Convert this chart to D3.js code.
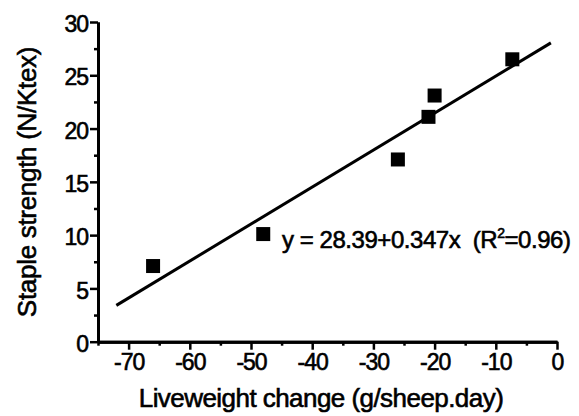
<!DOCTYPE html>
<html><head><meta charset="utf-8">
<script src="https://cdn.jsdelivr.net/npm/d3@7"></script>
<style>
body{margin:0;background:#fff;}
svg{display:block;font-family:"Liberation Sans",Arial,sans-serif;}
text{stroke:#000;stroke-width:0.6px;}
</style></head><body>
<svg id="c" width="579" height="416"></svg>
<script>
const xVals = [-66, -48, -26, -21, -20, -7.3];
const yVals = [7.1, 10.1, 17.1, 21.1, 23.1, 26.5];
const xTicks = [-70, -60, -50, -40, -30, -20, -10, 0];
const xMinor = [-75, -65, -55, -45, -35, -25, -15, -5];
const yTicks = [0, 5, 10, 15, 20, 25, 30];
const yMinor = [2.5, 7.5, 12.5, 17.5, 22.5, 27.5];
const fitIntercept = 28.39, fitSlope = 0.347;
const fitRange = [-72, -1];

const svg = d3.select("#c");
const x = d3.scaleLinear().domain([-75, 0]).range([98, 557]);
const y = d3.scaleLinear().domain([0, 30]).range([341.7, 22]);
const fmt = d => String(d);

const gx = svg.append("g").attr("transform", `translate(0,${y(0)})`)
  .call(d3.axisBottom(x).tickValues(xTicks).tickSize(8).tickSizeOuter(0).tickPadding(4).tickFormat(fmt));
const gxm = svg.append("g").attr("transform", `translate(0,${y(0)})`)
  .call(d3.axisBottom(x).tickValues(xMinor).tickSize(4).tickSizeOuter(0).tickFormat(""));
const gy = svg.append("g").attr("transform", `translate(${x(-75)},0)`)
  .call(d3.axisLeft(y).tickValues(yTicks).tickSize(8).tickSizeOuter(0).tickPadding(2).tickFormat(fmt));
const gym = svg.append("g").attr("transform", `translate(${x(-75)},0)`)
  .call(d3.axisLeft(y).tickValues(yMinor).tickSize(4).tickSizeOuter(0).tickFormat(""));

[gx, gxm, gy, gym].forEach(g => {
  g.select(".domain").attr("stroke", "#000").attr("stroke-width", 3);
  g.selectAll(".tick line").attr("stroke", "#000").attr("stroke-width", 2.5);
  g.selectAll(".tick text").attr("fill", "#000").style("font-size", "23px").style("font-family", '"Liberation Sans",Arial,sans-serif');
});
gy.selectAll(".tick text").attr("dy", "0.42em").style("letter-spacing", "-1px");
gx.selectAll(".tick text").style("letter-spacing", "-1px");

svg.append("line")
  .attr("x1", x(fitRange[0])).attr("y1", y(fitIntercept + fitSlope * fitRange[0]))
  .attr("x2", x(fitRange[1])).attr("y2", y(fitIntercept + fitSlope * fitRange[1]))
  .attr("stroke", "#000").attr("stroke-width", 3);

const s = 14;
svg.selectAll("rect.pt").data(xVals.map((d, i) => [d, yVals[i]])).enter()
  .append("rect").attr("class", "pt")
  .attr("x", d => x(d[0]) - s / 2).attr("y", d => y(d[1]) - s / 2)
  .attr("width", s).attr("height", s).attr("fill", "#000");

const eq = svg.append("text").attr("x", 282).attr("y", 248)
  .style("font-size", "24px").attr("fill", "#000").style("letter-spacing", "-0.45px").style("white-space", "pre");
eq.append("tspan").text("y = 28.39+0.347x  (R");
eq.append("tspan").attr("dy", -10).style("font-size", "14px").text("2");
eq.append("tspan").attr("dy", 10).text("=0.96)");

svg.append("text").attr("x", 321).attr("y", 407).attr("text-anchor", "middle")
  .style("font-size", "26px").style("letter-spacing", "-0.55px").attr("fill", "#000")
  .text("Liveweight change (g/sheep.day)");
svg.append("text").attr("transform", "translate(36,182) rotate(-90)").attr("text-anchor", "middle")
  .style("font-size", "26px").style("letter-spacing", "-0.3px").attr("fill", "#000")
  .text("Staple strength (N/Ktex)");
</script>
</body></html>
